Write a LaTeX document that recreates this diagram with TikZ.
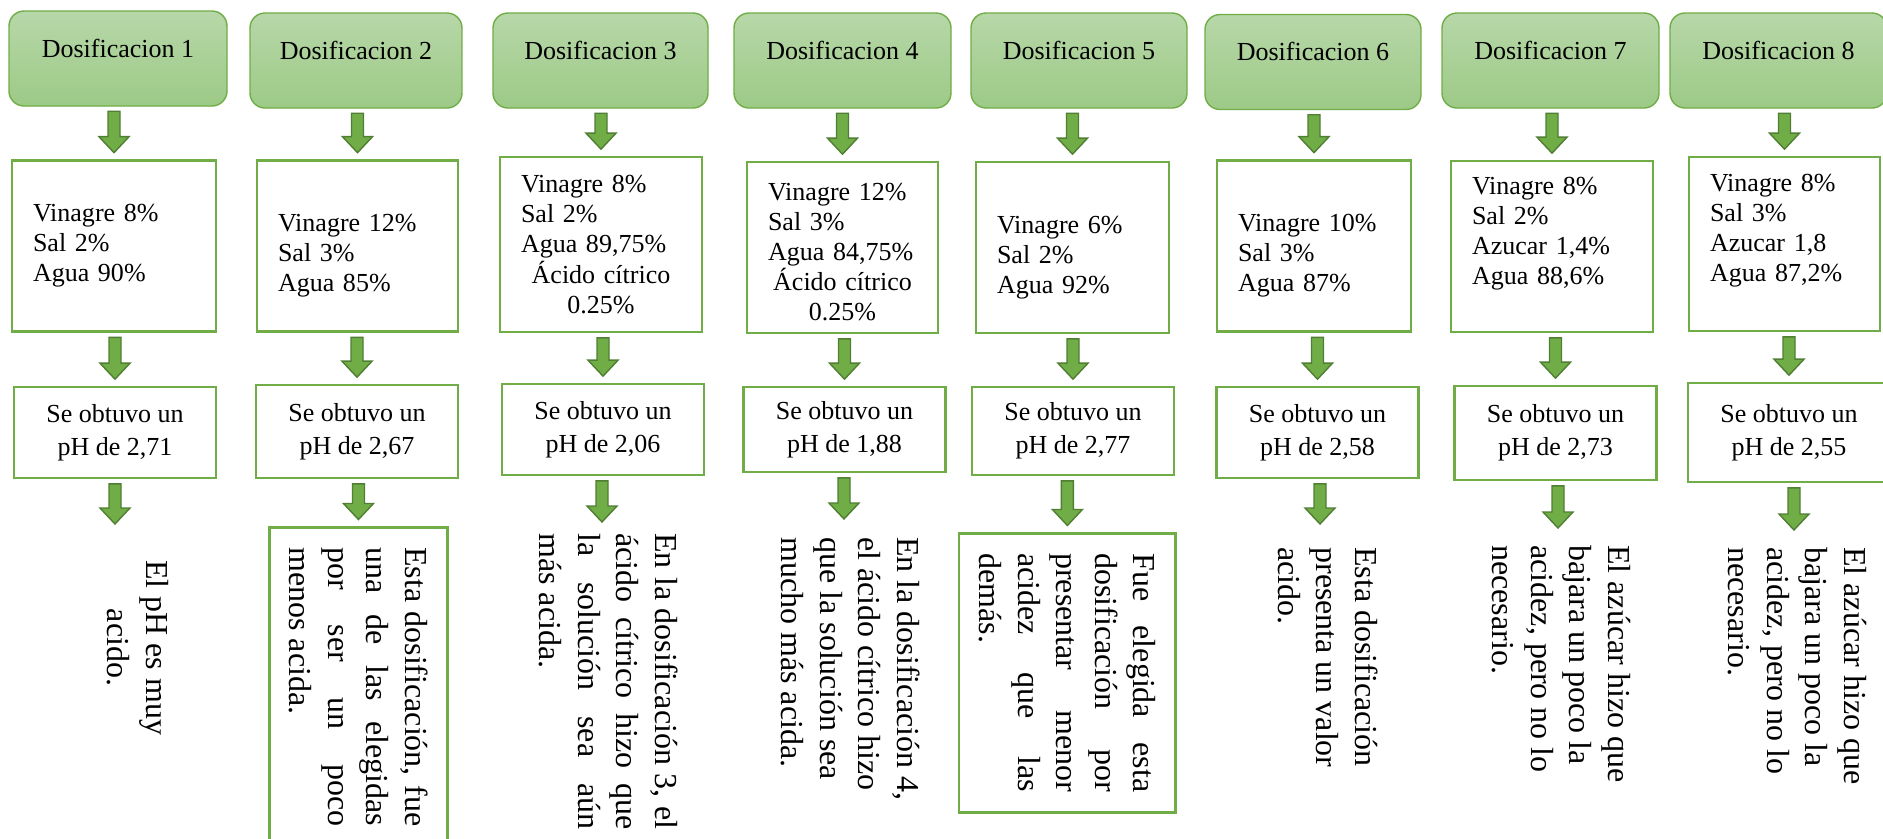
\documentclass[tikz,border=0pt]{standalone}
\usepackage{fontspec}
\setmainfont{Liberation Serif}
\usetikzlibrary{calc,positioning}
\definecolor{verdecaja}{RGB}{112,173,71}
\definecolor{verdeflecha}{RGB}{112,173,71}
\definecolor{bordeflecha}{RGB}{80,126,50}
\definecolor{verdeclaro}{RGB}{183,215,168}
\definecolor{verdemedio}{RGB}{157,202,135}

% block arrow from one node (top) down to the next (tip)
\newcommand{\flecha}[2]{%
  \filldraw[flecha] let \p1=(#1), \p2=(#2) in
    ({\x2-0.12cm},{\y1-0.09cm}) -- ({\x2+0.12cm},{\y1-0.09cm}) --
    ({\x2+0.12cm},{\y2+0.45cm}) -- ({\x2+0.3cm},{\y2+0.45cm}) --
    ({\x2},{\y2+0.13cm}) -- ({\x2-0.3cm},{\y2+0.45cm}) --
    ({\x2-0.12cm},{\y2+0.45cm}) -- cycle;}

\begin{document}
\begin{tikzpicture}[
  encabezado/.style={draw=verdecaja, line width=0.8pt, rounded corners=0.3cm, top color=verdeclaro, bottom color=verdemedio, minimum height=1.9cm, text height=0.36cm, text depth=0.42cm, font=\fontsize{14.8}{17.1}\selectfont},
  dato/.style={draw=verdecaja, line width=1.5pt, align=left, inner xsep=0.42cm, inner ysep=0.1cm, minimum height=3.42cm, font=\fontsize{14.8}{17.1}\selectfont},
  resultado/.style={draw=verdecaja, line width=1.5pt, align=center, minimum width=4.04cm, font=\fontsize{14.8}{18.8}\selectfont},
  nota/.style={rotate=-90, inner sep=0pt, font=\fontsize{18.2}{21.9}\selectfont},
  caja/.style={nota, draw=verdecaja, line width=1.5pt, inner sep=0.4cm},
  flecha/.style={fill=verdeflecha, draw=bordeflecha, line width=0.8pt}
]

% Page frame
\useasboundingbox (0,0) rectangle (37.66,-16.76);
\clip (0,0) rectangle (37.66,-16.76);

% Top row: dosages
\foreach \i/\x/\y/\w in {1/2.36/-1.17/4.36, 2/7.12/-1.21/4.24, 3/12.01/-1.21/4.30, 4/16.85/-1.21/4.34, 5/21.58/-1.21/4.32, 6/26.26/-1.24/4.32, 7/31.01/-1.21/4.34, 8/35.57/-1.21/4.34}
  \node[encabezado, minimum width=\w cm] (h\i) at (\x,\y) {Dosificacion \i};

% Middle row: mixtures
\node[dato, text width=3.24cm] (c1) at (2.28,-4.92) {Vinagre 8\%\\Sal 2\%\\Agua 90\%};
\node[dato, text width=3.18cm] (c2) at (7.15,-4.92) {\rule{0pt}{0.72cm}Vinagre 12\%\\Sal 3\%\\Agua 85\%};
\node[dato, text width=3.20cm, minimum height=3.5cm] (c3) at (12.02,-4.89) {Vinagre 8\%\\Sal 2\%\\Agua 89,75\%\par{\centering Ácido cítrico\\0.25\%\par}};
\node[dato, text width=2.98cm] (c4) at (16.85,-4.95) {\rule{0pt}{0.54cm}Vinagre 12\%\\Sal 3\%\\Agua 84,75\%\par{\centering Ácido cítrico\\0.25\%\par}};
\node[dato, text width=3.02cm] (c5) at (21.45,-4.95) {\rule{0pt}{0.74cm}Vinagre 6\%\\Sal 2\%\\Agua 92\%};
\node[dato, text width=3.04cm] (c6) at (26.28,-4.92) {\rule{0pt}{0.72cm}Vinagre 10\%\\Sal 3\%\\Agua 87\%};
\node[dato, text width=3.20cm] (c7) at (31.04,-4.93) {Vinagre 8\%\\Sal 2\%\\Azucar 1,4\%\\Agua 88,6\%\rule[-0.62cm]{0pt}{0.62cm}};
\node[dato, text width=2.98cm, minimum height=3.48cm] (c8) at (35.69,-4.88) {Vinagre 8\%\\Sal 3\%\\Azucar 1,8\\Agua 87,2\%\rule[-0.64cm]{0pt}{0.64cm}};

% Measured pH
\foreach \i/\x/\y/\h/\v in {1/2.30/-8.65/1.82/{2,71}, 2/7.14/-8.63/1.86/{2,67}, 3/12.06/-8.59/1.82/{2,06}, 4/16.89/-8.59/1.70/{1,88}, 5/21.46/-8.62/1.76/{2,77}, 6/26.35/-8.65/1.82/{2,58}, 7/31.11/-8.66/1.88/{2,73}, 8/35.78/-8.65/1.98/{2,55}}
  \node[resultado, minimum height=\h cm] (r\i) at (\x,\y) {Se obtuvo un\\pH de \v};

% Conclusions, written sideways
\node[nota, align=center, anchor=north] (t1) at (3.38,-12.95) {El pH es muy\\acido.};
\node[caja, align=justify, text width=5.58cm, anchor=north west] (k2) at (8.98,-10.52) {Esta dosificación, fue\linebreak una de las elegidas\linebreak por ser un poco\linebreak menos acida.};
\node[nota, align=justify, text width=5.92cm, anchor=north west] (t3) at (13.56,-10.66) {En la dosificación 3, el\linebreak ácido cítrico hizo que\linebreak la solución sea aún\linebreak más acida.};
\node[nota, align=left, anchor=north west] (t4) at (18.4,-10.74) {En la dosificación 4,\\el ácido cítrico hizo\\que la solución sea\\mucho más acida.};
\node[caja, align=justify, text width=4.78cm, anchor=north west] (k5) at (23.54,-10.64) {Fue elegida esta\linebreak dosificación por\linebreak presentar menor\linebreak acidez que las\linebreak demás.};
\node[nota, align=left, anchor=north west] (t6) at (27.56,-10.94) {Esta dosificación\\presenta un valor\\acido.};
\node[nota, align=left, anchor=north west] (t7) at (32.62,-10.9) {El azúcar hizo que\\bajara un poco la\\acidez, pero no lo\\necesario.};
\node[nota, align=left, anchor=north west] (t8) at (37.34,-10.94) {El azúcar hizo que\\bajara un poco la\\acidez, pero no lo\\necesario.};

% Free ends of the last arrows
\coordinate (fin1) at (2.30,-10.61);
\coordinate (fin3) at (12.04,-10.57);
\coordinate (fin4) at (16.88,-10.51);
\coordinate (fin6) at (26.40,-10.61);
\coordinate (fin7) at (31.16,-10.69);
\coordinate (fin8) at (35.88,-10.73);

% Arrows
\foreach \i in {1,...,8} {
  \flecha{h\i.south}{c\i.north}
  \flecha{c\i.south}{r\i.north}
}
\flecha{r1.south}{fin1}
\flecha{r2.south}{k2.west}
\flecha{r3.south}{fin3}
\flecha{r4.south}{fin4}
\flecha{r5.south}{k5.west}
\flecha{r6.south}{fin6}
\flecha{r7.south}{fin7}
\flecha{r8.south}{fin8}

\end{tikzpicture}
\end{document}
